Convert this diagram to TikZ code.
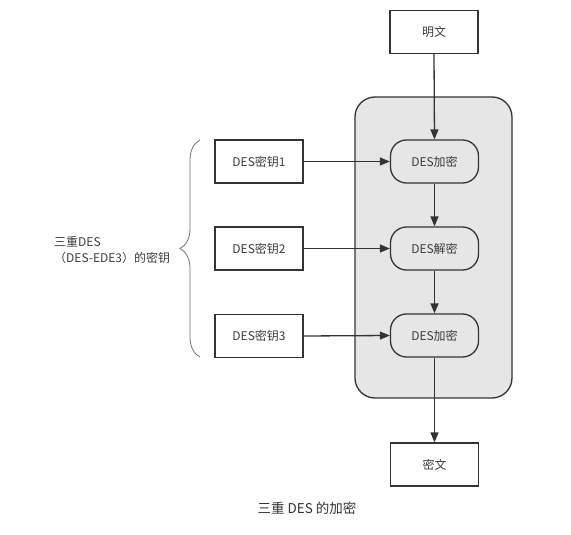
\documentclass[tikz,border=0pt]{standalone}
\usepackage{fontspec}
\setmainfont{Noto Sans CJK SC}
\usetikzlibrary{arrows.meta,decorations.pathreplacing}
\definecolor{ln}{HTML}{333333}
\definecolor{tx}{HTML}{3C3C3C}
\definecolor{bg}{HTML}{E6E6E6}
\begin{document}
\begin{tikzpicture}[x=1pt,y=-1pt,
  box/.style={draw=ln,line width=1.3pt,fill=white,minimum width=88pt,minimum height=43pt,inner sep=0pt,font=\fontsize{12}{14}\selectfont,text=tx},
  rbox/.style={box,fill=bg,rounded corners=16pt},
  arr/.style={draw=ln,line width=1.3pt,-{Triangle[length=10pt,width=8pt]}}]
\useasboundingbox (0,0) rectangle (571,535);
\node[draw=ln,line width=1.3pt,fill=bg,rounded corners=20pt,minimum width=157pt,minimum height=301pt,inner sep=0pt] (cont) at (433.5,247.5) {};
\node[box] (pt) at (434,32) {明文};
\node[rbox] (e1) at (434.5,161.5) {DES加密};
\node[rbox] (d2) at (434.5,248.5) {DES解密};
\node[rbox] (e3) at (434.5,335.5) {DES加密};
\node[box] (ct) at (434.5,464.5) {密文};
\node[box] (k1) at (259,161.5) {DES密钥1};
\node[box] (k2) at (259,248.5) {DES密钥2};
\node[box] (k3) at (259,336) {DES密钥3};
\draw[arr] (pt.south) -- (e1.north);
\draw[arr] (e1.south) -- (d2.north);
\draw[arr] (d2.south) -- (e3.north);
\draw[arr] (e3.south) -- (ct.north);
\draw[arr] (k1.east) -- (e1.west);
\draw[arr] (k2.east) -- (d2.west);
\draw[arr] (k3.east) -- (e3.west);
\coordinate (bb) at (200,357);
\coordinate (bt) at (200,140);
\draw[black!55,line width=0.8pt,decorate,decoration={brace,amplitude=20pt}] (bb) -- (bt);
\node[anchor=west,align=left,text=tx,font=\fontsize{12}{16}\selectfont,inner sep=0pt] (lab) at (54,250) {三重DES\\（DES-EDE3）的密钥};
\node[text=ln,font=\fontsize{13.5}{16}\selectfont] (cap) at (307,508) {三重 DES 的加密};
\end{tikzpicture}
\end{document}
